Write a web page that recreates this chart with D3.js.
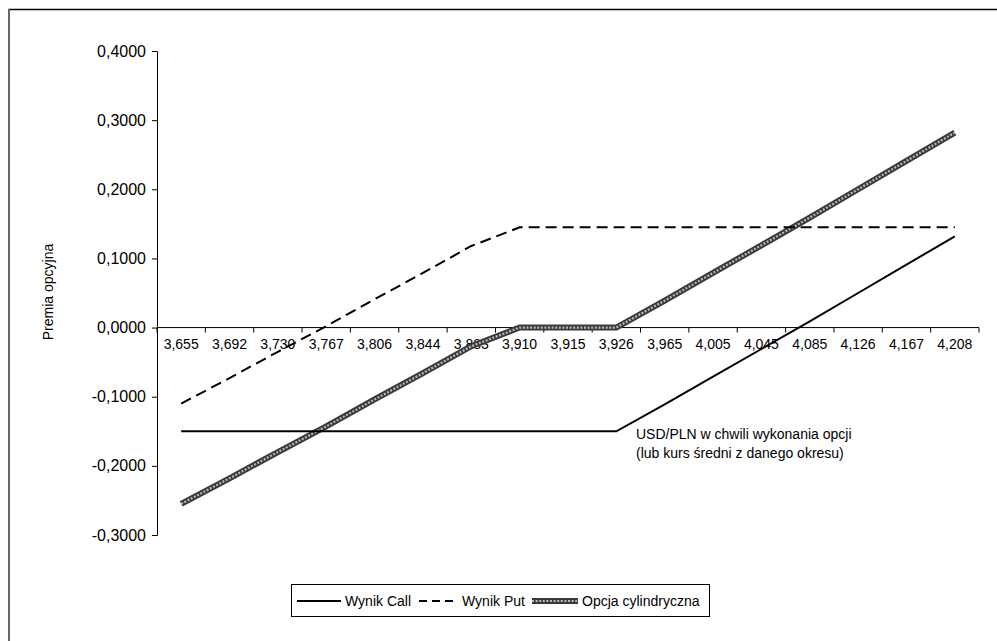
<!DOCTYPE html>
<html>
<head>
<meta charset="utf-8">
<script src="https://cdn.jsdelivr.net/npm/d3@7"></script>
<style>
  body { margin: 0; background: #fff; }
  svg { display: block; font-family: "Liberation Sans", Arial, sans-serif; }
</style>
</head>
<body>
<div id="chart"></div>
<script>
// kurs USD/PLN (kategorie osi X)
var kursy = ["3,655", "3,692", "3,730", "3,767", "3,806", "3,844", "3,883", "3,910", "3,915",
             "3,926", "3,965", "4,005", "4,045", "4,085", "4,126", "4,167", "4,208"];

// wyniki
var wynikCall = [-0.150, -0.150, -0.150, -0.150, -0.150, -0.150, -0.150, -0.150, -0.150,
                 -0.150, -0.111, -0.071, -0.031, 0.009, 0.050, 0.091, 0.132];
var wynikPut = [-0.110, -0.073, -0.035, 0.002, 0.041, 0.079, 0.118, 0.145, 0.145,
                0.145, 0.145, 0.145, 0.145, 0.145, 0.145, 0.145, 0.145];
var opcjaCyl = [-0.255, -0.218, -0.180, -0.143, -0.104, -0.066, -0.027, 0.000, 0.000,
                0.000, 0.039, 0.079, 0.119, 0.159, 0.200, 0.241, 0.282];

var yTicks = [-0.3, -0.2, -0.1, 0, 0.1, 0.2, 0.3, 0.4];

var width = 997, height = 641;

var svg = d3.select("#chart").append("svg")
    .attr("width", width)
    .attr("height", height);

// ramka wykresu
svg.append("path")
    .attr("d", "M9,641 V9.5 H997")
    .attr("fill", "none")
    .attr("stroke", "#000")
    .attr("stroke-width", 1.5);
svg.append("line")
    .attr("x1", 9).attr("x2", 9).attr("y1", 9).attr("y2", 641)
    .attr("stroke", "#666").attr("stroke-width", 2);

var x = d3.scaleBand().domain(kursy).range([157, 979]).padding(0);
var y = d3.scaleLinear().domain([-0.3, 0.4]).range([535, 51]);

function fmt(v) {
    return d3.format(".4f")(v).replace(".", ",").replace("−", "-");
}

// os Y
var yAxis = svg.append("g")
    .attr("transform", "translate(157,0)")
    .call(d3.axisLeft(y).tickValues(yTicks).tickFormat(fmt).tickSize(5).tickPadding(6));
yAxis.select(".domain").attr("stroke", "#000");
yAxis.selectAll("text").attr("font-size", 16).attr("fill", "#000");

// os X na poziomie zera
var xg = svg.append("g").attr("transform", "translate(0," + y(0) + ")");
xg.append("line")
    .attr("x1", 157).attr("x2", 979)
    .attr("stroke", "#000");
var granice = kursy.map(function(k) { return x(k); }).concat([x.range()[1]]);
xg.selectAll(".tk").data(granice).enter().append("line")
    .attr("x1", function(d) { return d; })
    .attr("x2", function(d) { return d; })
    .attr("y1", 0).attr("y2", 5)
    .attr("stroke", "#000");
xg.selectAll(".lbl").data(kursy).enter().append("text")
    .attr("x", function(d) { return x(d) + x.bandwidth() / 2; })
    .attr("y", 21)
    .attr("text-anchor", "middle")
    .attr("font-size", 14)
    .text(function(d) { return d; });

// tytul osi Y
svg.append("text")
    .attr("transform", "translate(53,292) rotate(-90)")
    .attr("text-anchor", "middle")
    .attr("font-size", 14)
    .text("Premia opcyjna");

var line = d3.line()
    .x(function(d, i) { return x(kursy[i]) + x.bandwidth() / 2; })
    .y(function(d) { return y(d); });

// opcja cylindryczna - linia wzorzysta
svg.append("path")
    .attr("d", line(opcjaCyl))
    .attr("fill", "none")
    .attr("stroke", "#3a3a3a")
    .attr("stroke-width", 6);
svg.append("path")
    .attr("d", line(opcjaCyl))
    .attr("fill", "none")
    .attr("stroke", "#b8b8b8")
    .attr("stroke-width", 2.2)
    .attr("stroke-dasharray", "2,1.6");

svg.append("path")
    .attr("d", line(wynikPut))
    .attr("fill", "none")
    .attr("stroke", "#000")
    .attr("stroke-width", 2)
    .attr("stroke-dasharray", "11,6");

svg.append("path")
    .attr("d", line(wynikCall))
    .attr("fill", "none")
    .attr("stroke", "#000")
    .attr("stroke-width", 2);

// opis
var opis = svg.append("text").attr("font-size", 14).attr("x", 636);
opis.append("tspan").attr("x", 636).attr("y", 439).text("USD/PLN w chwili wykonania opcji");
opis.append("tspan").attr("x", 636).attr("y", 458).text("(lub kurs średni z danego okresu)");

// legenda
var leg = svg.append("g");
leg.append("rect")
    .attr("x", 291.5).attr("y", 584.5)
    .attr("width", 418).attr("height", 32)
    .attr("fill", "#fff")
    .attr("stroke", "#000");
var ly = 601;
leg.append("line").attr("x1", 297).attr("x2", 341).attr("y1", ly).attr("y2", ly)
    .attr("stroke", "#000").attr("stroke-width", 2);
leg.append("text").attr("x", 345).attr("y", ly + 5).attr("font-size", 14).text("Wynik Call");
leg.append("line").attr("x1", 419).attr("x2", 458).attr("y1", ly).attr("y2", ly)
    .attr("stroke", "#000").attr("stroke-width", 2).attr("stroke-dasharray", "8,5");
leg.append("text").attr("x", 462).attr("y", ly + 5).attr("font-size", 14).text("Wynik Put");
leg.append("line").attr("x1", 532).attr("x2", 578).attr("y1", ly).attr("y2", ly)
    .attr("stroke", "#3a3a3a").attr("stroke-width", 6);
leg.append("line").attr("x1", 532).attr("x2", 578).attr("y1", ly).attr("y2", ly)
    .attr("stroke", "#b8b8b8").attr("stroke-width", 2.2).attr("stroke-dasharray", "2,1.6");
leg.append("text").attr("x", 582).attr("y", ly + 5).attr("font-size", 14).text("Opcja cylindryczna");
</script>
</body>
</html>
